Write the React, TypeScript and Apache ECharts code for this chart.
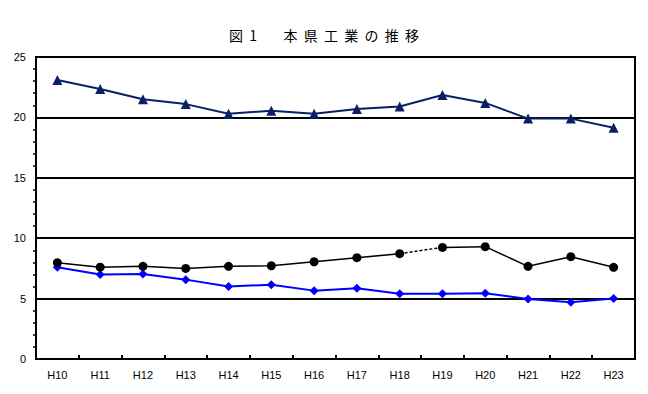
import React, { useEffect, useRef } from "react";
import * as echarts from "echarts";

const categories = ["H10", "H11", "H12", "H13", "H14", "H15", "H16", "H17", "H18", "H19", "H20", "H21", "H22", "H23"];
const navyValues = [23.1, 22.35, 21.5, 21.1, 20.3, 20.55, 20.3, 20.7, 20.9, 21.85, 21.2, 19.9, 19.9, 19.15];
const blackValues = [7.97, 7.6, 7.67, 7.5, 7.67, 7.72, 8.05, 8.39, 8.72, 9.24, 9.3, 7.67, 8.47, 7.59];
const blueValues = [7.59, 7.0, 7.04, 6.57, 6.0, 6.15, 5.66, 5.85, 5.4, 5.4, 5.45, 4.97, 4.7, 5.0];
const dashedFrom = 8; // black line dashed between H18 and H19
const yTicks = { min: 0, max: 25, interval: 5 };
const titleText = "図  1　    本  県  工  業  の  推  移";

export default function App() {
  const ref = useRef<HTMLDivElement>(null);
  useEffect(() => {
    if (!ref.current) return;
    const chart = echarts.init(ref.current, null, { renderer: "svg" });
    const blackA = blackValues.map((v, i) => (i <= dashedFrom ? v : "-"));
    const blackDash = blackValues.map((v, i) => (i === dashedFrom || i === dashedFrom + 1 ? v : "-"));
    const blackB = blackValues.map((v, i) => (i >= dashedFrom + 1 ? v : "-"));
    const font = "Arial, 'Liberation Sans', sans-serif";
    chart.setOption({
      animation: false,
      backgroundColor: "#ffffff",
      title: {
        text: titleText,
        left: "center",
        top: 23,
        textStyle: { fontFamily: "'Noto Sans CJK JP'", fontSize: 14, fontWeight: "normal", color: "#000" },
      },
      grid: { left: 36, right: 13, top: 57, bottom: 35, show: true, borderColor: "#000", borderWidth: 2 },
      xAxis: {
        type: "category",
        data: categories,
        boundaryGap: true,
        axisLine: { lineStyle: { color: "#000", width: 2 } },
        axisTick: { show: true, inside: true, length: 4, lineStyle: { color: "#000", width: 2 } },
        axisLabel: { color: "#000", fontSize: 11, fontFamily: font, margin: 10 },
        splitLine: { show: false },
      },
      yAxis: {
        type: "value",
        min: yTicks.min,
        max: yTicks.max,
        interval: yTicks.interval,
        axisLine: { show: true, lineStyle: { color: "#000", width: 2 } },
        axisTick: { show: false },
        minorTick: { show: true, splitNumber: 5, length: 3, lineStyle: { color: "#000", width: 1.5 } },
        axisLabel: { color: "#000", fontSize: 11, fontFamily: font, margin: 10 },
        splitLine: { show: true, lineStyle: { color: "#000", width: 2 } },
      },
      series: [
        {
          type: "line",
          data: navyValues,
          symbol: "triangle",
          symbolSize: 10,
          lineStyle: { color: "#0a2064", width: 2 },
          itemStyle: { color: "#0a2064" },
          z: 5,
        },
        {
          type: "line",
          data: blueValues,
          symbol: "diamond",
          symbolSize: 9,
          lineStyle: { color: "#0000ff", width: 2 },
          itemStyle: { color: "#0000ff" },
          z: 4,
        },
        {
          type: "line",
          data: blackDash,
          symbol: "none",
          lineStyle: { color: "#000", width: 1.5, type: [3, 2] },
          z: 5,
        },
        {
          type: "line",
          data: blackA,
          symbol: "circle",
          symbolSize: 9,
          lineStyle: { color: "#000", width: 1.5 },
          itemStyle: { color: "#000" },
          z: 6,
        },
        {
          type: "line",
          data: blackB,
          symbol: "circle",
          symbolSize: 9,
          lineStyle: { color: "#000", width: 1.5 },
          itemStyle: { color: "#000" },
          z: 6,
        },
      ],
    });
    return () => chart.dispose();
  }, []);
  return <div ref={ref} style={{ width: 648, height: 394, position: "fixed", left: 0, top: 0 }} />;
}
